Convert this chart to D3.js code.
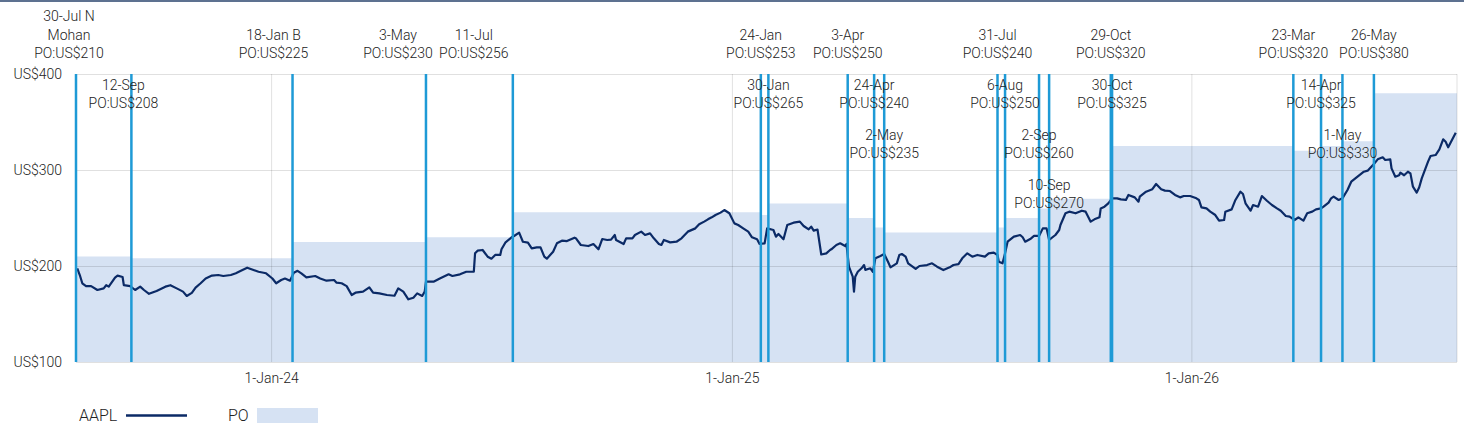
<!DOCTYPE html>
<html>
<head>
<meta charset="utf-8">
<script src="https://cdn.jsdelivr.net/npm/d3@7"></script>
<style>
  body { margin: 0; background: #fff; }
  svg { font-family: Roboto, "Noto Sans", sans-serif; font-weight: 300; }
</style>
</head>
<body>
<div id="chart"></div>
<script>
// price objective changes
const eventDates = ["2023-07-30", "2023-09-12", "2024-01-18", "2024-05-03", "2024-07-11",
    "2025-01-24", "2025-01-30", "2025-04-03", "2025-04-24", "2025-05-02",
    "2025-07-31", "2025-08-06", "2025-09-02", "2025-09-10", "2025-10-29",
    "2025-10-30", "2026-03-23", "2026-04-14", "2026-05-01", "2026-05-26"]
const priceObjectives = [210, 208, 225, 230, 256, 253, 265, 250, 240, 235,
    240, 250, 260, 270, 320, 325, 320, 325, 330, 380]
const eventHeads = [["30-Jul N", "Mohan"], ["12-Sep"], ["18-Jan B"], ["3-May"], ["11-Jul"],
    ["24-Jan"], ["30-Jan"], ["3-Apr"], ["24-Apr"], ["2-May"],
    ["31-Jul"], ["6-Aug"], ["2-Sep"], ["10-Sep"], ["29-Oct"],
    ["30-Oct"], ["23-Mar"], ["14-Apr"], ["1-May"], ["26-May"]]

// AAPL price
const priceDates = [
    "2023-07-31", "2023-08-02", "2023-08-04", "2023-08-07", "2023-08-11", "2023-08-16", "2023-08-21", "2023-08-23", "2023-08-25", "2023-08-30",
    "2023-09-01", "2023-09-05", "2023-09-06", "2023-09-11", "2023-09-15", "2023-09-19", "2023-09-22", "2023-09-26",
    "2023-10-02", "2023-10-09", "2023-10-13", "2023-10-18", "2023-10-23", "2023-10-26", "2023-10-30",
    "2023-11-02", "2023-11-06", "2023-11-10", "2023-11-15", "2023-11-20", "2023-11-24", "2023-11-30",
    "2023-12-04", "2023-12-08", "2023-12-13", "2023-12-18", "2023-12-22", "2023-12-28",
    "2024-01-02", "2024-01-05", "2024-01-09", "2024-01-12", "2024-01-16", "2024-01-19", "2024-01-22", "2024-01-25", "2024-01-29",
    "2024-02-05", "2024-02-09", "2024-02-14", "2024-02-20", "2024-02-22", "2024-02-26",
    "2024-03-01", "2024-03-05", "2024-03-08", "2024-03-14", "2024-03-19", "2024-03-22", "2024-03-27",
    "2024-04-02", "2024-04-08", "2024-04-11", "2024-04-15", "2024-04-19", "2024-04-23", "2024-04-26", "2024-04-30",
    "2024-05-02", "2024-05-03", "2024-05-09", "2024-05-14", "2024-05-21", "2024-05-24", "2024-05-30",
    "2024-06-04", "2024-06-10", "2024-06-11", "2024-06-13", "2024-06-17", "2024-06-21", "2024-06-24", "2024-06-27",
    "2024-07-01", "2024-07-02", "2024-07-05", "2024-07-10", "2024-07-12", "2024-07-16", "2024-07-19", "2024-07-23", "2024-07-26", "2024-07-30",
    "2024-08-02", "2024-08-05", "2024-08-07", "2024-08-12", "2024-08-15", "2024-08-19", "2024-08-23", "2024-08-29", "2024-08-30",
    "2024-09-03", "2024-09-09", "2024-09-13", "2024-09-17", "2024-09-20", "2024-09-24", "2024-09-27", "2024-09-30",
    "2024-10-01", "2024-10-07", "2024-10-09", "2024-10-14", "2024-10-16", "2024-10-21", "2024-10-24", "2024-10-28", "2024-10-31",
    "2024-11-04", "2024-11-06", "2024-11-08", "2024-11-13", "2024-11-18", "2024-11-22", "2024-11-27",
    "2024-12-03", "2024-12-06", "2024-12-10", "2024-12-13", "2024-12-16", "2024-12-19", "2024-12-23", "2024-12-26", "2024-12-30",
    "2025-01-03", "2025-01-06", "2025-01-10", "2025-01-14", "2025-01-17", "2025-01-21", "2025-01-23", "2025-01-27", "2025-01-29",
    "2025-02-03", "2025-02-05", "2025-02-07", "2025-02-11", "2025-02-14", "2025-02-19", "2025-02-24", "2025-02-27",
    "2025-03-03", "2025-03-05", "2025-03-07", "2025-03-10", "2025-03-13", "2025-03-17", "2025-03-20", "2025-03-21", "2025-03-25", "2025-03-28",
    "2025-04-01", "2025-04-02", "2025-04-04", "2025-04-07", "2025-04-08", "2025-04-09", "2025-04-11", "2025-04-14", "2025-04-16", "2025-04-17",
    "2025-04-21", "2025-04-23", "2025-04-25", "2025-04-29",
    "2025-05-02", "2025-05-05", "2025-05-07", "2025-05-12", "2025-05-14", "2025-05-16", "2025-05-19", "2025-05-21", "2025-05-27", "2025-05-30",
    "2025-06-05", "2025-06-09", "2025-06-13", "2025-06-18", "2025-06-23", "2025-06-26", "2025-06-30",
    "2025-07-03", "2025-07-07", "2025-07-11", "2025-07-15", "2025-07-21", "2025-07-24", "2025-07-28", "2025-07-31",
    "2025-08-01", "2025-08-04", "2025-08-06", "2025-08-08", "2025-08-13", "2025-08-18", "2025-08-20", "2025-08-22", "2025-08-26", "2025-08-29",
    "2025-09-02", "2025-09-05", "2025-09-08", "2025-09-10", "2025-09-15", "2025-09-18", "2025-09-19", "2025-09-23", "2025-09-26",
    "2025-10-01", "2025-10-06", "2025-10-09", "2025-10-13", "2025-10-16", "2025-10-20", "2025-10-21", "2025-10-24", "2025-10-27", "2025-10-30",
    "2025-11-03", "2025-11-06", "2025-11-10", "2025-11-12", "2025-11-17", "2025-11-20", "2025-11-21", "2025-11-26",
    "2025-12-01", "2025-12-04", "2025-12-08", "2025-12-11", "2025-12-15", "2025-12-19", "2025-12-23", "2025-12-26", "2025-12-31",
    "2026-01-05", "2026-01-07", "2026-01-09", "2026-01-13", "2026-01-16", "2026-01-20", "2026-01-23", "2026-01-27", "2026-01-28",
    "2026-02-02", "2026-02-05", "2026-02-09", "2026-02-11", "2026-02-13", "2026-02-17", "2026-02-19", "2026-02-23", "2026-02-26",
    "2026-03-02", "2026-03-06", "2026-03-10", "2026-03-13", "2026-03-17", "2026-03-20", "2026-03-24", "2026-03-27", "2026-03-31",
    "2026-04-03", "2026-04-07", "2026-04-10", "2026-04-14", "2026-04-16", "2026-04-20", "2026-04-22", "2026-04-24", "2026-04-28",
    "2026-05-01", "2026-05-05", "2026-05-08", "2026-05-13", "2026-05-18", "2026-05-21", "2026-05-26", "2026-05-29",
    "2026-06-02", "2026-06-04", "2026-06-08", "2026-06-09", "2026-06-12", "2026-06-15", "2026-06-16", "2026-06-19", "2026-06-22", "2026-06-24", "2026-06-26", "2026-06-29",
    "2026-07-01", "2026-07-03", "2026-07-08", "2026-07-10", "2026-07-14", "2026-07-17", "2026-07-20", "2026-07-22", "2026-07-24", "2026-07-27", "2026-07-30"]
const priceValues = [
    197.6, 190.6, 182, 179, 179, 175, 176.7, 180, 178.5, 188,
    190, 188.5, 180, 179, 175, 178.5, 175, 171,
    174, 178.5, 180, 176.7, 173.3, 168.8, 172,
    177.5, 182, 187, 190, 190.6, 189.6, 190.6,
    192.4, 195, 198.2, 195.8, 194, 192.4,
    187, 182, 185.4, 187, 184.7, 193, 195, 192.4, 188.2,
    189.6, 187, 184.7, 185.4, 182.6, 182,
    179, 169.8, 172.2, 173.3, 177.8, 172.2, 171.5,
    169.8, 169, 176.7, 173.3, 165.3, 167, 171.5, 168.8,
    173.3, 183.7, 183.7, 187, 191.3, 189.6, 191.3,
    194, 194, 213.2, 216, 216.7, 209.7, 207.6, 211.5,
    211.5, 217.4, 224.3, 229.9, 231.3, 234.7, 225.3, 224.3, 218.4, 219.4,
    219.4, 209.7, 207.6, 214.9, 223.6, 226.4, 226, 229.5, 229,
    221.9, 220.8, 222.9, 217.4, 228.1, 227.1, 227.5, 232.3,
    227, 222.9, 228.8, 228.8, 232.3, 235.8, 232.3, 234, 228.8,
    222.9, 221.9, 227.1, 224.6, 225.3, 228.8, 235.8,
    239.2, 243.4, 246.2, 248.6, 250.7, 253.1, 255.6, 258.3, 254.9,
    244.4, 242.7, 239.2, 235.8, 229.9, 227.8, 222.9, 223.6, 239.2,
    237.5, 230.6, 233.3, 227.8, 242.7, 245.1, 246.2, 241.7,
    238.2, 241, 236.8, 238, 212, 213.2, 216.7, 217.4, 221.9, 223.6,
    220.8, 222.9, 199.3, 188.9, 173.3, 188.9, 194, 197.6, 201, 196,
    197.6, 194, 208, 210.4,
    212.5, 204.5, 198.6, 202.8, 211.5, 212.5, 209.7, 202.8, 196.9, 200,
    201, 202.8, 199.3, 195.8, 198.6, 201, 202,
    208, 213.2, 209.7, 211.5, 209.7, 213.2, 213.9, 211.5,
    204.5, 202.8, 213.2, 225.3, 230.6, 232.3, 229.9, 225.3, 228.1, 231.3,
    231.3, 239.2, 239.2, 227.1, 232.3, 237.5, 242.7, 254.9, 256.6,
    254.9, 257.6, 256.6, 246.2, 248.6, 250.7, 260, 261.8, 265.3, 270.5,
    270.5, 269.4, 268.8, 274, 271.5, 267, 272.2, 277.4,
    280, 285.4, 279.9, 278.5, 278.1, 274, 271.5, 272.9, 272.9,
    270.5, 268.8, 261.1, 260, 256.6, 253.1, 247.2, 247.9, 256.6,
    259, 268.8, 277.4, 275, 265.3, 257.6, 263.5, 261.8, 272.9,
    268, 263.5, 260, 257.6, 252.1, 251.4, 247.9, 250.7, 247.2,
    254.9, 256.6, 259, 260, 261.8, 266, 270.5, 272.2, 268.8,
    270.5, 279.2, 287.8, 293, 298.2, 299.3, 306.3, 311.1,
    313.2, 310.4, 311, 301.7, 293, 294.5, 297.2, 294.5, 298.2, 296.5, 282.6, 276.4,
    282, 291.3, 308.7, 314.6, 315.6, 321.5, 332, 329.5, 323.6, 331.3, 338.9]

const xTicks = ["2024-01-01", "2025-01-01", "2026-01-01"]
const yTicks = [100, 200, 300, 400]

// label layout: row of the stacked label and nudge from its line
const labelRow = [0, 1, 0, 0, 0, 0, 1, 0, 1, 2, 0, 1, 2, 3, 0, 1, 0, 1, 2, 0]
const labelShift = [-7, -8, -19, -28, -39, 0, 0, 0, 0, 0, 0, 0, 0, 0, 0, 0, 0, 0, 0, 0]

let width = 1464;
let height = 425;
let plotLeft = 76, plotRight = 1457, plotTop = 74, plotBottom = 362;

let parse = d3.timeParse("%Y-%m-%d");

let chart = d3.select("#chart").append("svg")
    .attr("width", width).attr("height", height)

chart.append("rect")
    .attr("x", 0).attr("y", 0).attr("width", width).attr("height", 2)
    .attr("fill", "#5d7190")

let xscale = d3.scaleTime()
    .domain([parse("2023-07-30"), parse("2026-07-31")])
    .range([plotLeft, plotRight])

let yscale = d3.scaleLinear()
    .domain([100, 400])
    .range([plotBottom, plotTop])

// PO step area
let poData = eventDates.map((d, i) => ({ date: parse(d), po: priceObjectives[i] }))
poData.push({ date: xscale.domain()[1], po: priceObjectives[priceObjectives.length - 1] })

let area = d3.area()
    .curve(d3.curveStepAfter)
    .x(d => xscale(d.date))
    .y0(yscale(100))
    .y1(d => yscale(d.po))

chart.append("path")
    .datum(poData)
    .attr("d", area)
    .attr("fill", "#d6e2f3")

// grid + axes
let yAxis = chart.append("g")
    .attr("transform", "translate(" + plotLeft + ",0)")
    .call(d3.axisLeft(yscale).tickValues(yTicks)
        .tickSize(-(plotRight - plotLeft)).tickPadding(14)
        .tickFormat(d => "US$" + d))
yAxis.attr("font-family", null).attr("font-size", 14)
yAxis.select(".domain").remove()
yAxis.selectAll("line").attr("stroke", "#000").attr("stroke-opacity", 0.12)
yAxis.selectAll("text").attr("fill", "#222")

let xAxis = chart.append("g")
    .attr("transform", "translate(0," + plotBottom + ")")
    .call(d3.axisBottom(xscale).tickValues(xTicks.map(parse))
        .tickSize(-(plotBottom - plotTop)).tickPadding(11)
        .tickFormat(d3.timeFormat("%-d-%b-%y")))
xAxis.attr("font-family", null).attr("font-size", 14)
xAxis.select(".domain").remove()
xAxis.selectAll("line").attr("stroke", "#000").attr("stroke-opacity", 0.12)
xAxis.selectAll("text").attr("fill", "#222")

chart.append("line")
    .attr("x1", plotRight).attr("x2", plotRight).attr("y1", plotTop).attr("y2", plotBottom)
    .attr("stroke", "#000").attr("stroke-opacity", 0.12)

// price line
let line = d3.line()
    .x((d, i) => xscale(parse(priceDates[i])))
    .y(d => yscale(d))

chart.append("path")
    .datum(priceValues)
    .attr("d", line)
    .attr("fill", "none")
    .attr("stroke", "#0b2a66")
    .attr("stroke-width", 2.2)
    .attr("stroke-linejoin", "round")

// PO change markers
chart.selectAll(".event").data(poData.slice(0, eventDates.length)).enter().append("line")
    .attr("class", "event")
    .attr("x1", d => xscale(d.date)).attr("x2", d => xscale(d.date))
    .attr("y1", plotTop).attr("y2", plotBottom)
    .attr("stroke", "#1e9ad6")
    .attr("stroke-width", 2.5)

let labels = chart.selectAll(".label").data(poData.slice(0, eventDates.length)).enter().append("text")
    .attr("class", "label")
    .attr("text-anchor", "middle")
    .attr("font-size", 14)
    .attr("fill", "#222")

labels.each(function (d, i) {
    let rows = eventHeads[i].concat(["PO:US$" + d.po])
    let last = 58 + 50 * labelRow[i]
    d3.select(this).selectAll("tspan").data(rows).enter().append("tspan")
        .attr("x", xscale(d.date) + labelShift[i])
        .attr("y", (r, j) => last - (rows.length - 1 - j) * 18.5)
        .text(r => r)
})

// legend
chart.append("text").attr("x", 79).attr("y", 421).attr("font-size", 16).attr("fill", "#222").text("AAPL")
chart.append("line").attr("x1", 126).attr("x2", 187).attr("y1", 415.5).attr("y2", 415.5)
    .attr("stroke", "#0b2a66").attr("stroke-width", 2.5)
chart.append("text").attr("x", 228).attr("y", 421).attr("font-size", 16).attr("fill", "#222").text("PO")
chart.append("rect").attr("x", 257).attr("y", 408).attr("width", 61).attr("height", 15).attr("fill", "#d6e2f3")
</script>
</body>
</html>
